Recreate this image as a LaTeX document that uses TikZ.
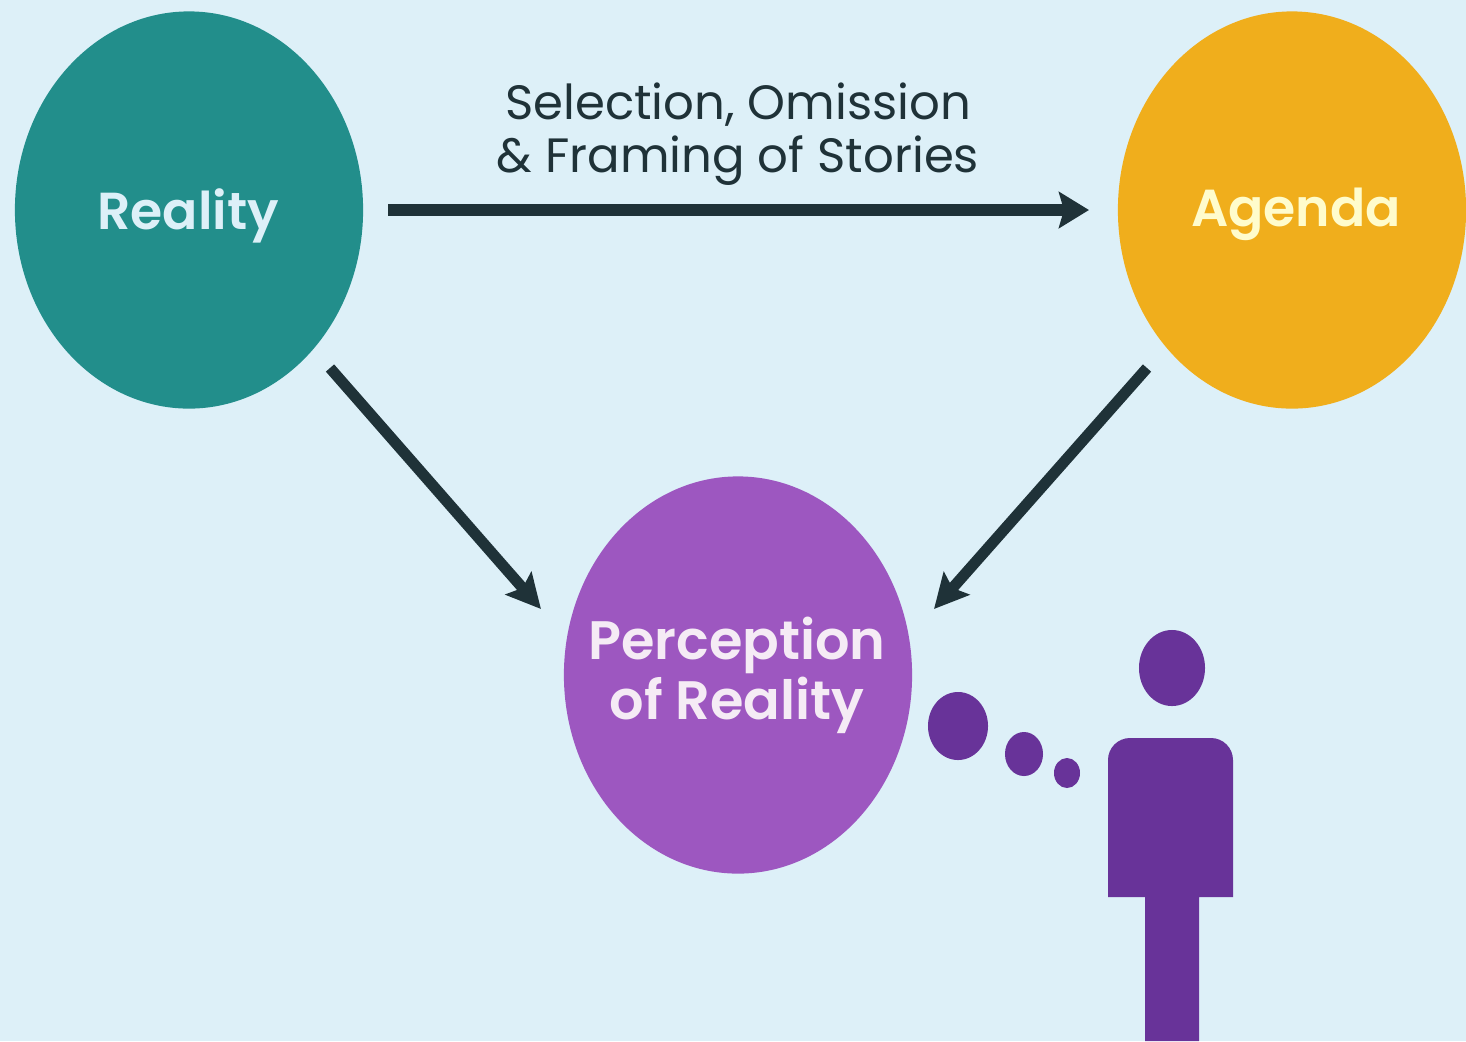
\documentclass[tikz,border=0pt]{standalone}
\usepackage{fontspec}
\setmainfont{Poppins}[BoldFont=Poppins SemiBold]
\usetikzlibrary{shapes.geometric,arrows.meta}
\definecolor{skybg}{HTML}{DDF0F8}
\definecolor{tealc}{HTML}{228E8B}
\definecolor{amberc}{HTML}{F0AE1C}
\definecolor{violetc}{HTML}{9D57C0}
\definecolor{personc}{HTML}{683399}
\definecolor{inkc}{HTML}{1F3238}
\tikzset{
	bigcircle/.style={ellipse, minimum width=3.48cm, minimum height=3.97cm, inner sep=0pt},
	bigtext/.style={font=\fontsize{14.8}{17}\selectfont\bfseries, align=center, inner sep=0pt},
	thickarrow/.style={draw=inkc, line width=0.12cm, -{Stealth[length=0.30cm,width=0.36cm,inset=0.05cm]}},
	thinarrow/.style={draw=inkc, line width=0.11cm, -{Stealth[length=0.34cm,width=0.34cm,inset=0.06cm]}},
	bubble/.style={ellipse, fill=personc, inner sep=0pt}
}
\begin{document}
\begin{tikzpicture}[x=0.01cm,y=-0.01cm]
	\fill [skybg] (0,0) rectangle (1466,1041);
	\useasboundingbox (0,0) rectangle (1466,1041);

	\node (reality) [bigcircle, fill=tealc] at (189,210) {};
	\node (agenda) [bigcircle, fill=amberc] at (1292,210) {};
	\node (perception) [bigcircle, fill=violetc] at (738,675) {};

	\node (realitytext) [bigtext, text=skybg] at (188,216) {Reality};
	\node (agendatext) [bigtext, text=yellow!20] at (1296,214) {Agenda};
	\node (perceptiontext) [bigtext, text=violet!8, font=\fontsize{15.4}{17}\selectfont\bfseries] at (737,675) {Perception\\of Reality};

	\node (caption) [text=inkc, align=center, font=\fontsize{13.7}{15}\selectfont] at (738,134) {Selection, Omission\\\& Framing of Stories};

	\coordinate (rightstart) at (388,210);
	\coordinate (rightend) at (1089,210);
	\coordinate (leftstart) at (330,368);
	\coordinate (leftend) at (541,609);
	\coordinate (backstart) at (1147,368);
	\coordinate (backend) at (934,609);
	\draw [thickarrow] (rightstart) -- (rightend);
	\draw [thinarrow] (leftstart) -- (leftend);
	\draw [thinarrow] (backstart) -- (backend);

	\node (bubblea) [bubble, minimum width=0.60cm, minimum height=0.68cm] at (958,726) {};
	\node (bubbleb) [bubble, minimum width=0.38cm, minimum height=0.44cm] at (1024,754) {};
	\node (bubblec) [bubble, minimum width=0.26cm, minimum height=0.30cm] at (1067,773) {};

	\node (head) [bubble, minimum width=0.66cm, minimum height=0.76cm] at (1172,668) {};
	\fill [personc] (1108,897) -- (1108,760) arc (180:270:22) -- (1211,738) arc (270:360:22) -- (1233,897) -- (1199,897) -- (1199,1041) -- (1145,1041) -- (1145,897) -- cycle;
\end{tikzpicture}
\end{document}
